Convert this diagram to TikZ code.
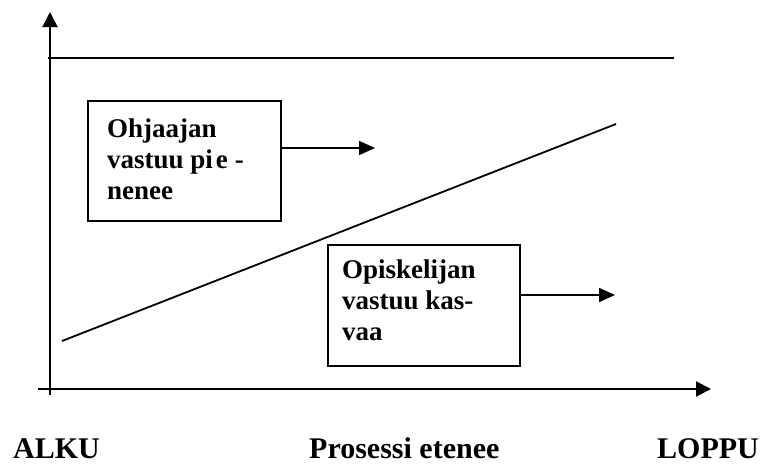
\documentclass[tikz,border=0pt]{standalone}
\usepackage{fontspec}
\setmainfont{Liberation Serif}
\usetikzlibrary{arrows.meta}
\begin{document}
\begin{tikzpicture}[x=1pt,y=-1pt,
  axis/.style={line width=2pt,-{Triangle[length=15pt,width=15pt]}},
  plainline/.style={line width=2pt},
  respbox/.style={draw,line width=1.6pt,anchor=north west,inner sep=0pt},
  boxtext/.style={anchor=base west,inner sep=0pt,align=left,
    font=\fontsize{27}{31}\selectfont\bfseries},
  flow/.style={line width=1.6pt,-{Triangle[length=16pt,width=14pt]}},
  axlabel/.style={anchor=base west,inner sep=0pt,font=\fontsize{30}{34}\selectfont\bfseries}]
\useasboundingbox (0,0) rectangle (760,464);

% axes
\coordinate (ybot) at (50,395);
\coordinate (ytop) at (50,12);
\coordinate (xbeg) at (38,389);
\coordinate (xend) at (711,389);
\draw[axis] (ybot) -- (ytop);
\draw[axis] (xbeg) -- (xend);

% upper limit and rising boundary
\coordinate (topl) at (48,58);
\coordinate (topr) at (674,58);
\draw[plainline] (topl) -- (topr);
\coordinate (diag1) at (62,341);
\coordinate (diag2) at (616,124);
\draw[line width=1.8pt] (diag1) -- (diag2);

% supervisor box (text anchored on the baseline of its last line)
\node[respbox,minimum width=193pt,minimum height=120pt] (box1) at (87,100) {};
\node[boxtext] (txt1) at (107,199) {Ohjaajan\\vastuu pi\hspace{3pt}e\hspace{7pt}-\\nenee};
\coordinate (arr1) at (375,148);
\draw[flow] (box1.east |- arr1) -- (arr1);

% student box
\node[respbox,minimum width=192pt,minimum height=121pt] (box2) at (327,244) {};
\node[boxtext] (txt2) at (342,340) {Opiskelijan\\vastuu kas-\\vaa};
\coordinate (arr2) at (615,295);
\draw[flow] (box2.east |- arr2) -- (arr2);

% axis labels
\node[axlabel] (alku) at (13,458) {ALKU};
\node[axlabel] (prosessi) at (309,458) {Prosessi etenee};
\node[axlabel] (loppu) at (657,458) {LOPPU};
\end{tikzpicture}
\end{document}
